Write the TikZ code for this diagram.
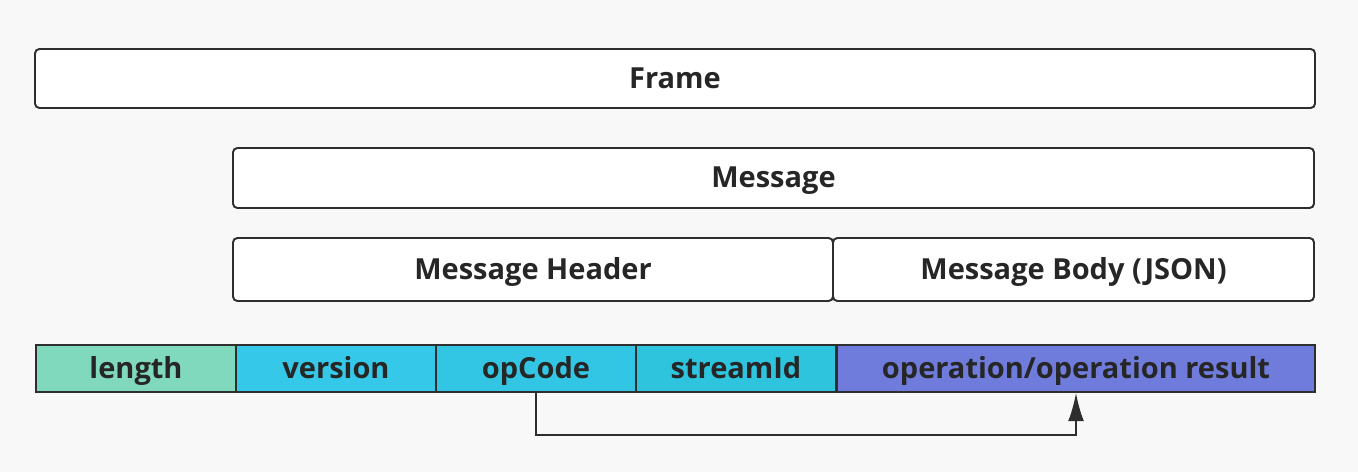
\documentclass[tikz,border=0pt]{standalone}
\usepackage{fontspec}
\setmainfont{Open Sans}
\usetikzlibrary{arrows.meta}
\definecolor{bgcol}{HTML}{F7F8F7}
\definecolor{lencol}{HTML}{80D9BD}
\definecolor{vercol}{HTML}{35C8E8}
\definecolor{opccol}{HTML}{33C6E4}
\definecolor{sidcol}{HTML}{2EC4DE}
\definecolor{rescol}{HTML}{6F7CDC}
\definecolor{edgecol}{HTML}{2E2E2E}
\begin{document}
\begin{tikzpicture}[line width=1.1pt]
	\tikzstyle{every node}=[draw=edgecol,shape=rectangle,inner sep=0pt,text height=14pt,text depth=3pt,font=\fontsize{16.5}{19}\selectfont\bfseries,text=black!85];
	\tikzstyle{layer}=[fill=white,rounded corners=2.5pt];
	\tikzstyle{field}=[minimum height=0.94cm];

	\useasboundingbox[fill=bgcol] (0,0) rectangle (27.16,-9.44);

	\node at (13.5, -1.57)  (frame) [layer,minimum width=25.6cm,minimum height=1.18cm] {Frame};
	\node at (15.47, -3.56) (msg) [layer,minimum width=21.62cm,minimum height=1.2cm] {Message};
	\node at (10.66, -5.39) (head) [layer,minimum width=12.0cm,minimum height=1.26cm] {Message Header};
	\node at (21.47, -5.39) (body) [layer,minimum width=9.62cm,minimum height=1.26cm] {Message Body (JSON)};

	\node at (2.72, -7.37)  (len) [field,fill=lencol,minimum width=4.0cm] {length};
	\node at (6.72, -7.37)  (ver) [field,fill=vercol,minimum width=4.0cm] {version};
	\node at (10.72, -7.37) (opc) [field,fill=opccol,minimum width=4.0cm] {opCode};
	\node at (14.72, -7.37) (sid) [field,fill=sidcol,minimum width=4.0cm] {streamId};
	\node at (21.52, -7.37) (res) [field,fill=rescol,minimum width=9.56cm] {operation/operation result};

	\coordinate (turn) at (10.72, -8.7);
	\draw[edgecol,-{Latex[length=16pt,width=9pt]}] (opc.south) -- (turn) -| (res.south);
\end{tikzpicture}
\end{document}
